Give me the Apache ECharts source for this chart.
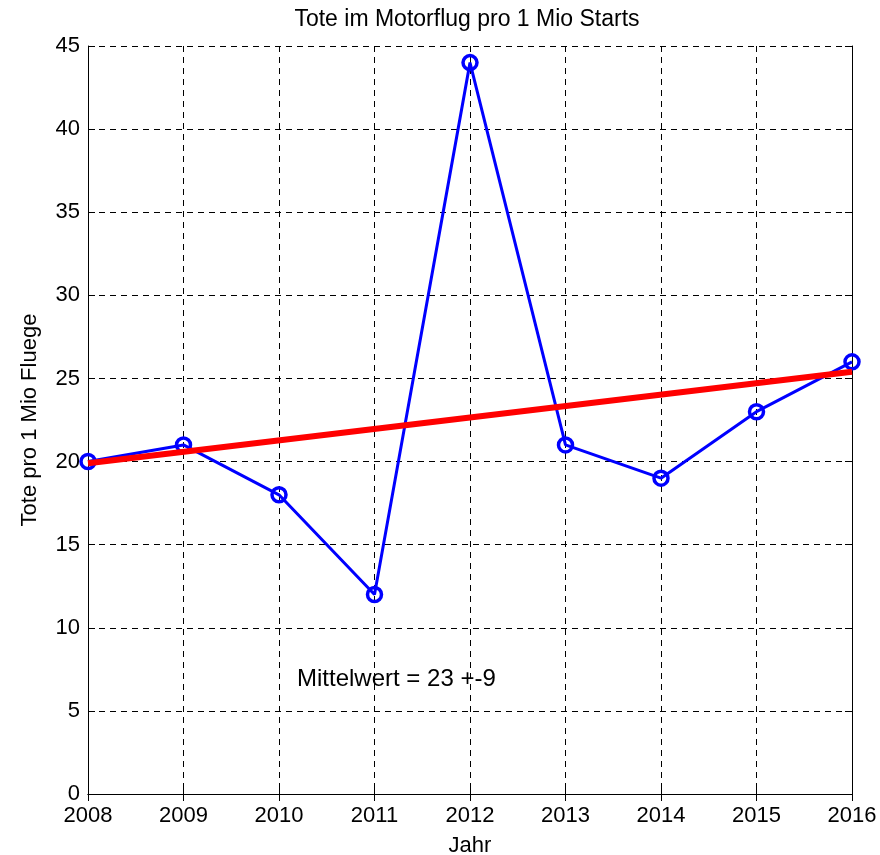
<!DOCTYPE html>
<html>
<head>
<meta charset="utf-8">
<script src="https://cdn.jsdelivr.net/npm/echarts@6/dist/echarts.min.js"></script>
<style>html,body{margin:0;padding:0;background:#fff}#c{width:880px;height:855px}</style>
</head>
<body>
<div id="c"></div>
<script>
const years = [2008, 2009, 2010, 2011, 2012, 2013, 2014, 2015, 2016];
const deaths = [20, 21, 18, 12, 44, 21, 19, 23, 26];
const trendYears = [2008, 2016];
const trendValues = [19.9, 25.4];
const titleText = 'Tote im Motorflug pro 1 Mio Starts';
const xName = 'Jahr';
const yName = 'Tote pro 1 Mio Fluege';
const noteText = 'Mittelwert = 23 +-9';

const FONT = "'Liberation Sans', Arial, Helvetica, sans-serif";
const chart = echarts.init(document.getElementById('c'), null, {renderer: 'canvas'});

const gridLine = {show: true, lineStyle: {color: '#000', width: 1, type: [6, 5]}};
const axisLine = {show: true, lineStyle: {color: '#000', width: 1}};
const tick = {show: true, inside: true, length: 7, lineStyle: {color: '#000', width: 1}};

chart.setOption({
  animation: false,
  backgroundColor: '#fff',
  title: {
    text: titleText,
    left: 467, top: 8, padding: 0, textAlign: 'center',
    textStyle: {fontFamily: FONT, fontSize: 23, fontWeight: 'normal', color: '#000'}
  },
  grid: {left: 88, right: 28, top: 46, bottom: 61, containLabel: false, outerBoundsMode: 'none'},
  xAxis: [{
    type: 'value', min: 2008, max: 2016, interval: 1, position: 'bottom',
    name: xName, nameLocation: 'middle', nameGap: 41,
    nameTextStyle: {fontFamily: FONT, fontSize: 22, color: '#000'},
    axisLine: axisLine, axisTick: tick, splitLine: gridLine,
    axisLabel: {fontFamily: FONT, fontSize: 22, color: '#000', margin: 11, formatter: v => String(v)}
  }, {
    type: 'value', min: 2008, max: 2016, interval: 1, position: 'top',
    axisLine: axisLine, axisTick: tick, splitLine: {show: false}, axisLabel: {show: false}
  }],
  yAxis: [{
    type: 'value', min: 0, max: 45, interval: 5, position: 'left',
    name: yName, nameLocation: 'middle', nameGap: 47, nameRotate: 90,
    nameTextStyle: {fontFamily: FONT, fontSize: 22, color: '#000'},
    axisLine: axisLine, axisTick: tick, splitLine: gridLine,
    axisLabel: {fontFamily: FONT, fontSize: 22, color: '#000', margin: 8}
  }, {
    type: 'value', min: 0, max: 45, interval: 5, position: 'right',
    axisLine: axisLine, axisTick: tick, splitLine: {show: false}, axisLabel: {show: false}
  }],
  series: [{
    type: 'line',
    data: years.map((y, i) => [y, deaths[i]]),
    clip: false,
    symbol: 'circle', symbolSize: 14,
    lineStyle: {color: '#0000ff', width: 3},
    itemStyle: {color: 'rgba(0,0,0,0)', borderColor: '#0000ff', borderWidth: 3.5},
    z: 3
  }, {
    type: 'line',
    data: trendYears.map((y, i) => [y, trendValues[i]]),
    clip: false,
    symbol: 'none',
    lineStyle: {color: '#ff0000', width: 6, cap: 'butt'},
    z: 4
  }],
  graphic: [{
    type: 'text', left: 297, top: 667,
    style: {text: noteText, fontFamily: FONT, fontSize: 24, fill: '#000'}
  }]
});
</script>
</body>
</html>
